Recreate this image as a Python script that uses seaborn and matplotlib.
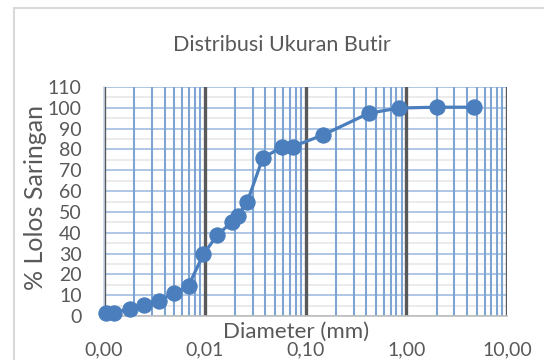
import numpy as np
import pandas as pd
import matplotlib
matplotlib.use("Agg")
import matplotlib.pyplot as plt
import seaborn as sns
from matplotlib.patches import Rectangle
from matplotlib.ticker import LogLocator, MultipleLocator, NullFormatter

# Grain size distribution data
diameter_mm = [4.75, 2.0, 0.85, 0.425, 0.15, 0.075, 0.059, 0.0376, 0.0265,
               0.0212, 0.0188, 0.0133, 0.0097, 0.0069, 0.0049, 0.0035,
               0.0025, 0.0018, 0.00126, 0.00104]
percent_passing = [100.3, 100.3, 99.9, 97.4, 87.0, 81.4, 81.4, 75.8, 55.0,
                   48.1, 45.3, 38.9, 29.6, 14.6, 10.9, 7.2, 5.3, 3.5, 1.6, 1.6]

x_ticks = [0.001, 0.01, 0.1, 1, 10]
x_tick_labels = ["0,00", "0,01", "0,10", "1,00", "10,00"]
y_ticks = list(range(0, 111, 10))

sns.set_style("white")
plt.rcParams['font.family'] = ['Lato', 'DejaVu Sans']

df = pd.DataFrame({'Diameter': diameter_mm, 'Lolos': percent_passing})

fig = plt.figure(figsize=(5.44, 3.6), dpi=100)
ax = fig.add_axes([104/544, 1 - 316/360, 403/544, 229/360])

line_color = '#4a7ebd'
sns.lineplot(data=df, x='Diameter', y='Lolos', ax=ax, color=line_color,
             marker='o', markersize=11, markeredgecolor=line_color,
             linewidth=2.3, sort=True, zorder=5)
for ln in ax.lines:
    ln.set_clip_on(False)

ax.set_xscale('log')
ax.set_xlim(0.001, 10)
ax.set_ylim(0, 110)

ax.xaxis.set_minor_locator(LogLocator(base=10, subs=np.arange(2, 10)))
ax.xaxis.set_minor_formatter(NullFormatter())
ax.set_xticks(x_ticks)
ax.set_xticklabels(x_tick_labels)
ax.set_yticks(y_ticks)
ax.yaxis.set_minor_locator(MultipleLocator(5))

# horizontal grid below, vertical grid on top of it
ax.grid(which='minor', axis='x', color='#7ea4d4', linewidth=1.5)
ax.grid(which='major', axis='x', color='#595959', linewidth=2.4)
ax.grid(which='major', axis='y', color='#a8c2e4', linewidth=1.3)
ax.grid(which='minor', axis='y', color='#e8e8e8', linewidth=1.2)
ax.set_axisbelow(True)
ax.yaxis.set_zorder(0.3)
ax.xaxis.set_zorder(0.6)

ax.tick_params(axis='both', which='both', length=0, labelsize=14,
               labelcolor='#595959')
ax.tick_params(axis='x', pad=18)
ax.tick_params(axis='y', pad=16)

for side in ['top', 'right']:
    ax.spines[side].set_visible(False)
ax.spines['left'].set_color('#c7d6ea')
ax.spines['left'].set_linewidth(1.2)
ax.spines['bottom'].set_color('#bfbfbf')
ax.spines['bottom'].set_linewidth(1.2)

ax.set_xlabel('')
ax.set_ylabel('')

fig.text(282/544, 1 - 45/360, 'Distribusi Ukuran Butir', ha='center',
         va='center', fontsize=15.5, color='#595959')
fig.text(36/544, 1 - 197/360, '% Lolos Saringan', ha='center', va='center',
         rotation=90, fontsize=18, color='#595959')
fig.text(296/544, 1 - 332/360, 'Diameter (mm)', ha='center', va='center',
         fontsize=16, color='#595959')

# outer chart frame
fig.patches.append(Rectangle((14/544, -0.1), 1.2, 1.1 - 8/360, fill=False,
                             edgecolor='#d9d9d9', linewidth=1.5,
                             transform=fig.transFigure))

fig.savefig('out.png', dpi=100)
